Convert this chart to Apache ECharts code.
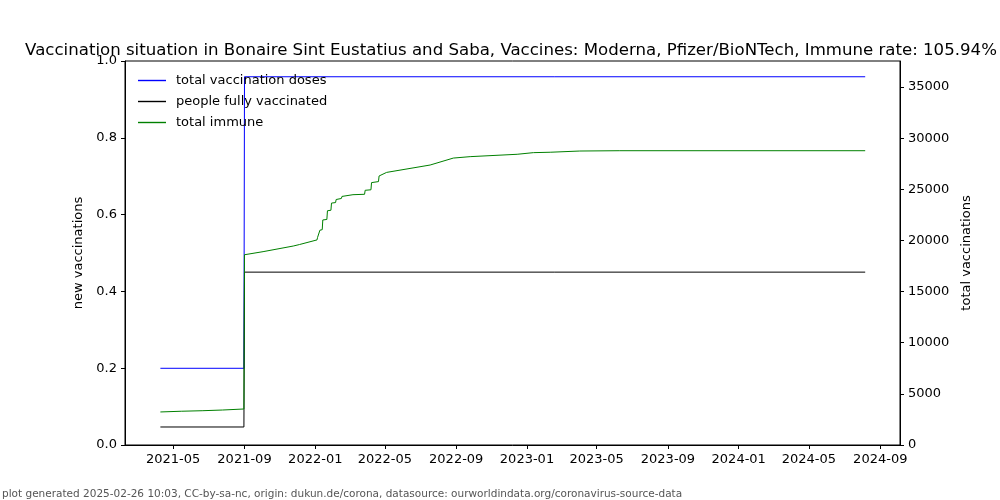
<!DOCTYPE html>
<html>
<head>
<meta charset="utf-8">
<script src="https://cdn.jsdelivr.net/npm/echarts@6/dist/echarts.min.js"></script>
<style>html,body{margin:0;padding:0;background:#fff}#c{width:1000px;height:500px}</style>
</head>
<body>
<div id="c"></div>
<script>
// Data
var dosesDates = ['2021-04-09', '2021-08-31', '2021-09-01', '2024-08-06'];
var dosesValues = [7500, 7500, 36000, 36000];

var fullyDates = ['2021-04-09', '2021-08-31', '2021-09-01', '2024-08-06'];
var fullyValues = [1760, 1760, 16900, 16900];

var immuneDates = ['2021-04-09','2021-05-15','2021-06-20','2021-07-25','2021-08-31',
  '2021-09-01','2021-10-03','2021-11-24','2021-12-05','2021-12-06','2022-01-04','2022-01-05',
  '2022-01-08','2022-01-09','2022-01-13','2022-01-14','2022-01-21','2022-01-22','2022-01-28',
  '2022-01-29','2022-02-05','2022-02-06','2022-02-15','2022-02-16','2022-03-07','2022-03-27',
  '2022-03-28','2022-04-07','2022-04-08','2022-04-20','2022-04-21','2022-05-04','2022-07-18',
  '2022-07-19','2022-08-27','2022-09-25','2022-12-15','2023-01-12','2023-02-10','2023-04-02',
  '2023-06-10','2024-08-06'];
var immuneValues = [3230,3300,3350,3420,3520,
  18600,18900,19450,19600,19780,20050,20300,
  20350,21000,21050,22000,22050,22900,22950,
  23650,23700,24000,24100,24300,24470,24510,
  24900,24950,25650,25750,26300,26650,27370,
  27560,28050,28190,28420,28580,28620,28740,
  28770,28770];

var xTickLabels = ['2021-05','2021-09','2022-01','2022-05','2022-09','2023-01','2023-05','2023-09','2024-01','2024-05','2024-09'];
var leftTicks = [0, 0.2, 0.4, 0.6, 0.8, 1.0];
var rightTicks = [0, 5000, 10000, 15000, 20000, 25000, 30000, 35000];

function ts(d){ var p = d.split('-'); return Date.UTC(+p[0], +p[1]-1, p[2] ? +p[2] : 1); }
function pairs(ds, vs){ return ds.map(function(d,i){ return [ts(d), vs[i]]; }); }
var xTickValues = xTickLabels.map(ts);

var font = 'DejaVu Sans';
var chart = echarts.init(document.getElementById('c'), null, {renderer:'canvas'});
chart.setOption({
  animation: false,
  backgroundColor: '#ffffff',
  textStyle: {fontFamily: font},
  title: {
    text: 'Vaccination situation in Bonaire Sint Eustatius and Saba, Vaccines: Moderna, Pfizer/BioNTech, Immune rate: 105.94%',
    left: 506, top: 37, textAlign: 'center',
    textStyle: {fontFamily: font, fontSize: 16.6, fontWeight: 'normal', color: '#000'}
  },
  grid: {left: 125, right: 100, top: 61, bottom: 55, show: true, borderColor: '#000', borderWidth: 1, backgroundColor: 'transparent'},
  legend: {
    orient: 'vertical', left: 138, top: 74, padding: 0, itemGap: 8, itemWidth: 28, itemHeight: 1.4, icon: 'rect',
    textStyle: {fontFamily: font, fontSize: 13, color: '#000', padding: [0, 0, 0, 5]},
    data: ['total vaccination doses', 'people fully vaccinated', 'total immune']
  },
  xAxis: {
    type: 'value', min: ts('2021-02-07'), max: ts('2024-10-05'),
    splitLine: {show: false},
    axisLine: {show: true, lineStyle: {color: '#000'}},
    axisTick: {show: true, inside: false, length: 4, lineStyle: {color: '#000'}, customValues: xTickValues},
    axisLabel: {color: '#000', fontFamily: font, fontSize: 13, margin: 8, customValues: xTickValues,
      formatter: function(v){ var d = new Date(v); var m = d.getUTCMonth()+1; return d.getUTCFullYear() + '-' + (m < 10 ? '0' + m : m); }}
  },
  yAxis: [{
    type: 'value', min: 0, max: 1, position: 'left',
    name: 'new vaccinations', nameLocation: 'middle', nameGap: 38, nameRotate: 90,
    nameTextStyle: {fontFamily: font, fontSize: 13, color: '#000'},
    splitLine: {show: false},
    axisLine: {show: true, lineStyle: {color: '#000'}},
    axisTick: {show: true, length: 4, lineStyle: {color: '#000'}, customValues: leftTicks},
    axisLabel: {color: '#000', fontFamily: font, fontSize: 13, margin: 8, customValues: leftTicks,
      formatter: function(v){ return (+v).toFixed(1); }}
  }, {
    type: 'value', min: 0, max: 37540, position: 'right',
    name: 'total vaccinations', nameLocation: 'middle', nameGap: 60, nameRotate: 90,
    nameTextStyle: {fontFamily: font, fontSize: 13, color: '#000'},
    splitLine: {show: false},
    axisLine: {show: true, lineStyle: {color: '#000'}},
    axisTick: {show: true, length: 4, lineStyle: {color: '#000'}, customValues: rightTicks},
    axisLabel: {color: '#000', fontFamily: font, fontSize: 13, margin: 8, customValues: rightTicks,
      formatter: function(v){ return String(Math.round(v)); }}
  }],
  series: [{
    name: 'total vaccination doses', type: 'line', yAxisIndex: 1, symbol: 'none',
    lineStyle: {color: '#0000ff', width: 1}, itemStyle: {color: '#0000ff'},
    data: pairs(dosesDates, dosesValues)
  }, {
    name: 'people fully vaccinated', type: 'line', yAxisIndex: 1, symbol: 'none',
    lineStyle: {color: '#000000', width: 1}, itemStyle: {color: '#000000'},
    data: pairs(fullyDates, fullyValues)
  }, {
    name: 'total immune', type: 'line', yAxisIndex: 1, symbol: 'none',
    lineStyle: {color: '#008000', width: 1}, itemStyle: {color: '#008000'},
    data: pairs(immuneDates, immuneValues)
  }],
  graphic: [{
    type: 'text', left: 2, top: 489,
    style: {text: 'plot generated 2025-02-26 10:03, CC-by-sa-nc, origin: dukun.de/corona, datasource: ourworldindata.org/coronavirus-source-data',
      fill: '#555', font: '10.5px "DejaVu Sans"'}
  }]
});
</script>
</body>
</html>
